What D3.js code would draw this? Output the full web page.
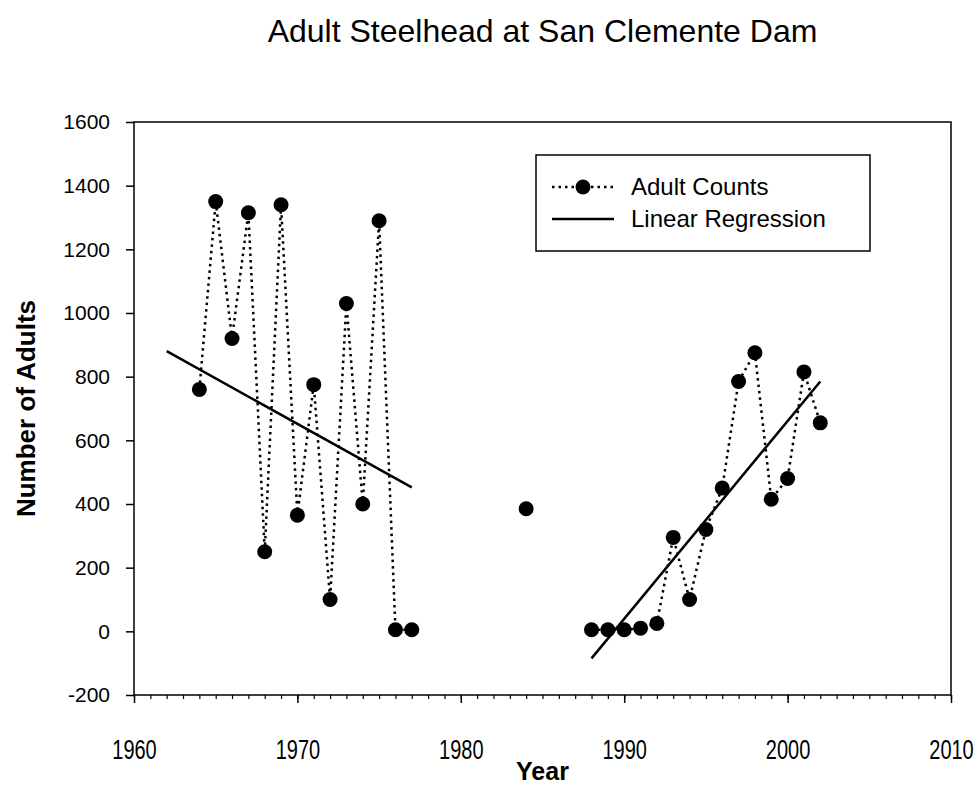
<!DOCTYPE html>
<html>
<head>
<meta charset="utf-8">
<script src="https://cdn.jsdelivr.net/npm/d3@7"></script>
<style>
  body { margin: 0; background: #fff; }
  svg { font-family: "Liberation Sans", Arial, sans-serif; }
</style>
</head>
<body>
<div id="chart"></div>
<script>
// adult counts by year
var years  = [1964, 1965, 1966, 1967, 1968, 1969, 1970, 1971, 1972, 1973, 1974, 1975, 1976, 1977,
              1984,
              1988, 1989, 1990, 1991, 1992, 1993, 1994, 1995, 1996, 1997, 1998, 1999, 2000, 2001, 2002];
var counts = [760, 1350, 920, 1315, 250, 1340, 365, 775, 100, 1030, 400, 1290, 5, 5,
              385,
              5, 5, 5, 10, 25, 295, 100, 320, 450, 785, 875, 415, 480, 815, 655];
// runs joined by the dotted line (gaps between them)
var segments = [[1964, 1977], [1984, 1984], [1988, 2002]];
// regression end points
var reg1 = [[1962, 880], [1977, 452]];
var reg2 = [[1988, -85], [2002, 785]];

var xTicks = [1960, 1970, 1980, 1990, 2000, 2010];
var yTicks = [-200, 0, 200, 400, 600, 800, 1000, 1200, 1400, 1600];

var width = 979, height = 787;
var margin = {top: 122, right: 28, bottom: 92, left: 134};
var w = width - margin.left - margin.right,
    h = height - margin.top - margin.bottom;

var svg = d3.select("#chart").append("svg")
    .attr("width", width)
    .attr("height", height);

var g = svg.append("g")
    .attr("transform", "translate(" + margin.left + "," + margin.top + ")");

var x = d3.scaleLinear().domain([1960, 2010]).range([0, w]);
var y = d3.scaleLinear().domain([-200, 1600]).range([h, 0]);

// frame
g.append("rect")
    .attr("width", w).attr("height", h)
    .attr("fill", "none").attr("stroke", "#000").attr("stroke-width", 1.5);

// x axis, minor ticks every year
g.append("g")
    .attr("transform", "translate(0," + h + ")")
    .call(d3.axisBottom(x).tickValues(d3.range(1960, 2011)).tickSize(4).tickFormat(""))
    .call(function(a) { a.select(".domain").remove(); a.selectAll("line").attr("stroke-width", 1.2); });

var xa = g.append("g")
    .attr("transform", "translate(0," + h + ")")
    .call(d3.axisBottom(x).tickValues(xTicks).tickSize(8).tickFormat(function(d) { return String(d); }));
xa.select(".domain").remove();
xa.selectAll("line").attr("stroke-width", 1.5);
xa.selectAll("text")
    .attr("y", 0).attr("dy", 0)
    .attr("font-size", 20).attr("fill", "#000")
    .attr("transform", "translate(0,64) scale(1,1.35)")
    .style("font-family", "'Liberation Sans', Arial, sans-serif");

var ya = g.append("g")
    .call(d3.axisLeft(y).tickValues(yTicks).tickSize(8).tickPadding(16)
      .tickFormat(function(d) { return String(d); }));
ya.select(".domain").remove();
ya.selectAll("line").attr("stroke-width", 1.5);
ya.selectAll("text").attr("font-size", 21).attr("fill", "#000")
    .style("font-family", "'Liberation Sans', Arial, sans-serif");

// regression lines
var line = d3.line().x(function(d) { return x(d[0]); }).y(function(d) { return y(d[1]); });
[reg1, reg2].forEach(function(r) {
  g.append("path").attr("d", line(r))
    .attr("fill", "none").attr("stroke", "#000").attr("stroke-width", 2.5);
});

// dotted connecting lines
var pts = years.map(function(yr, i) { return [yr, counts[i]]; });
segments.forEach(function(s) {
  var run = pts.filter(function(p) { return p[0] >= s[0] && p[0] <= s[1]; });
  if (run.length < 2) return;
  g.append("path").attr("d", line(run))
    .attr("fill", "none").attr("stroke", "#000").attr("stroke-width", 2.5)
    .attr("stroke-dasharray", "2.5,4");
});

// points
g.selectAll("circle.pt").data(pts).enter().append("circle")
    .attr("class", "pt")
    .attr("cx", function(d) { return x(d[0]); })
    .attr("cy", function(d) { return y(d[1]); })
    .attr("r", 7.5)
    .attr("fill", "#000");

// title and axis titles
svg.append("text")
    .attr("x", margin.left + w / 2).attr("y", 42)
    .attr("text-anchor", "middle").attr("font-size", 32)
    .text("Adult Steelhead at San Clemente Dam");

svg.append("text")
    .attr("x", margin.left + w / 2).attr("y", 780)
    .attr("text-anchor", "middle").attr("font-size", 25).attr("font-weight", "bold")
    .text("Year");

svg.append("text")
    .attr("transform", "translate(35," + (margin.top + h / 2) + ") rotate(-90)")
    .attr("text-anchor", "middle").attr("font-size", 26).attr("font-weight", "bold")
    .text("Number of Adults");

// legend
var lg = svg.append("g").attr("transform", "translate(536,155)");
lg.append("rect").attr("width", 334).attr("height", 96)
    .attr("fill", "#fff").attr("stroke", "#000").attr("stroke-width", 1.5);
lg.append("line").attr("x1", 16).attr("x2", 78).attr("y1", 32).attr("y2", 32)
    .attr("stroke", "#000").attr("stroke-width", 2.5).attr("stroke-dasharray", "2.5,4");
lg.append("circle").attr("cx", 47).attr("cy", 32).attr("r", 7.5).attr("fill", "#000");
lg.append("line").attr("x1", 16).attr("x2", 78).attr("y1", 64).attr("y2", 64)
    .attr("stroke", "#000").attr("stroke-width", 2.5);
lg.append("text").attr("x", 95).attr("y", 40).attr("font-size", 24).text("Adult Counts");
lg.append("text").attr("x", 95).attr("y", 72).attr("font-size", 24).text("Linear Regression");
</script>
</body>
</html>
